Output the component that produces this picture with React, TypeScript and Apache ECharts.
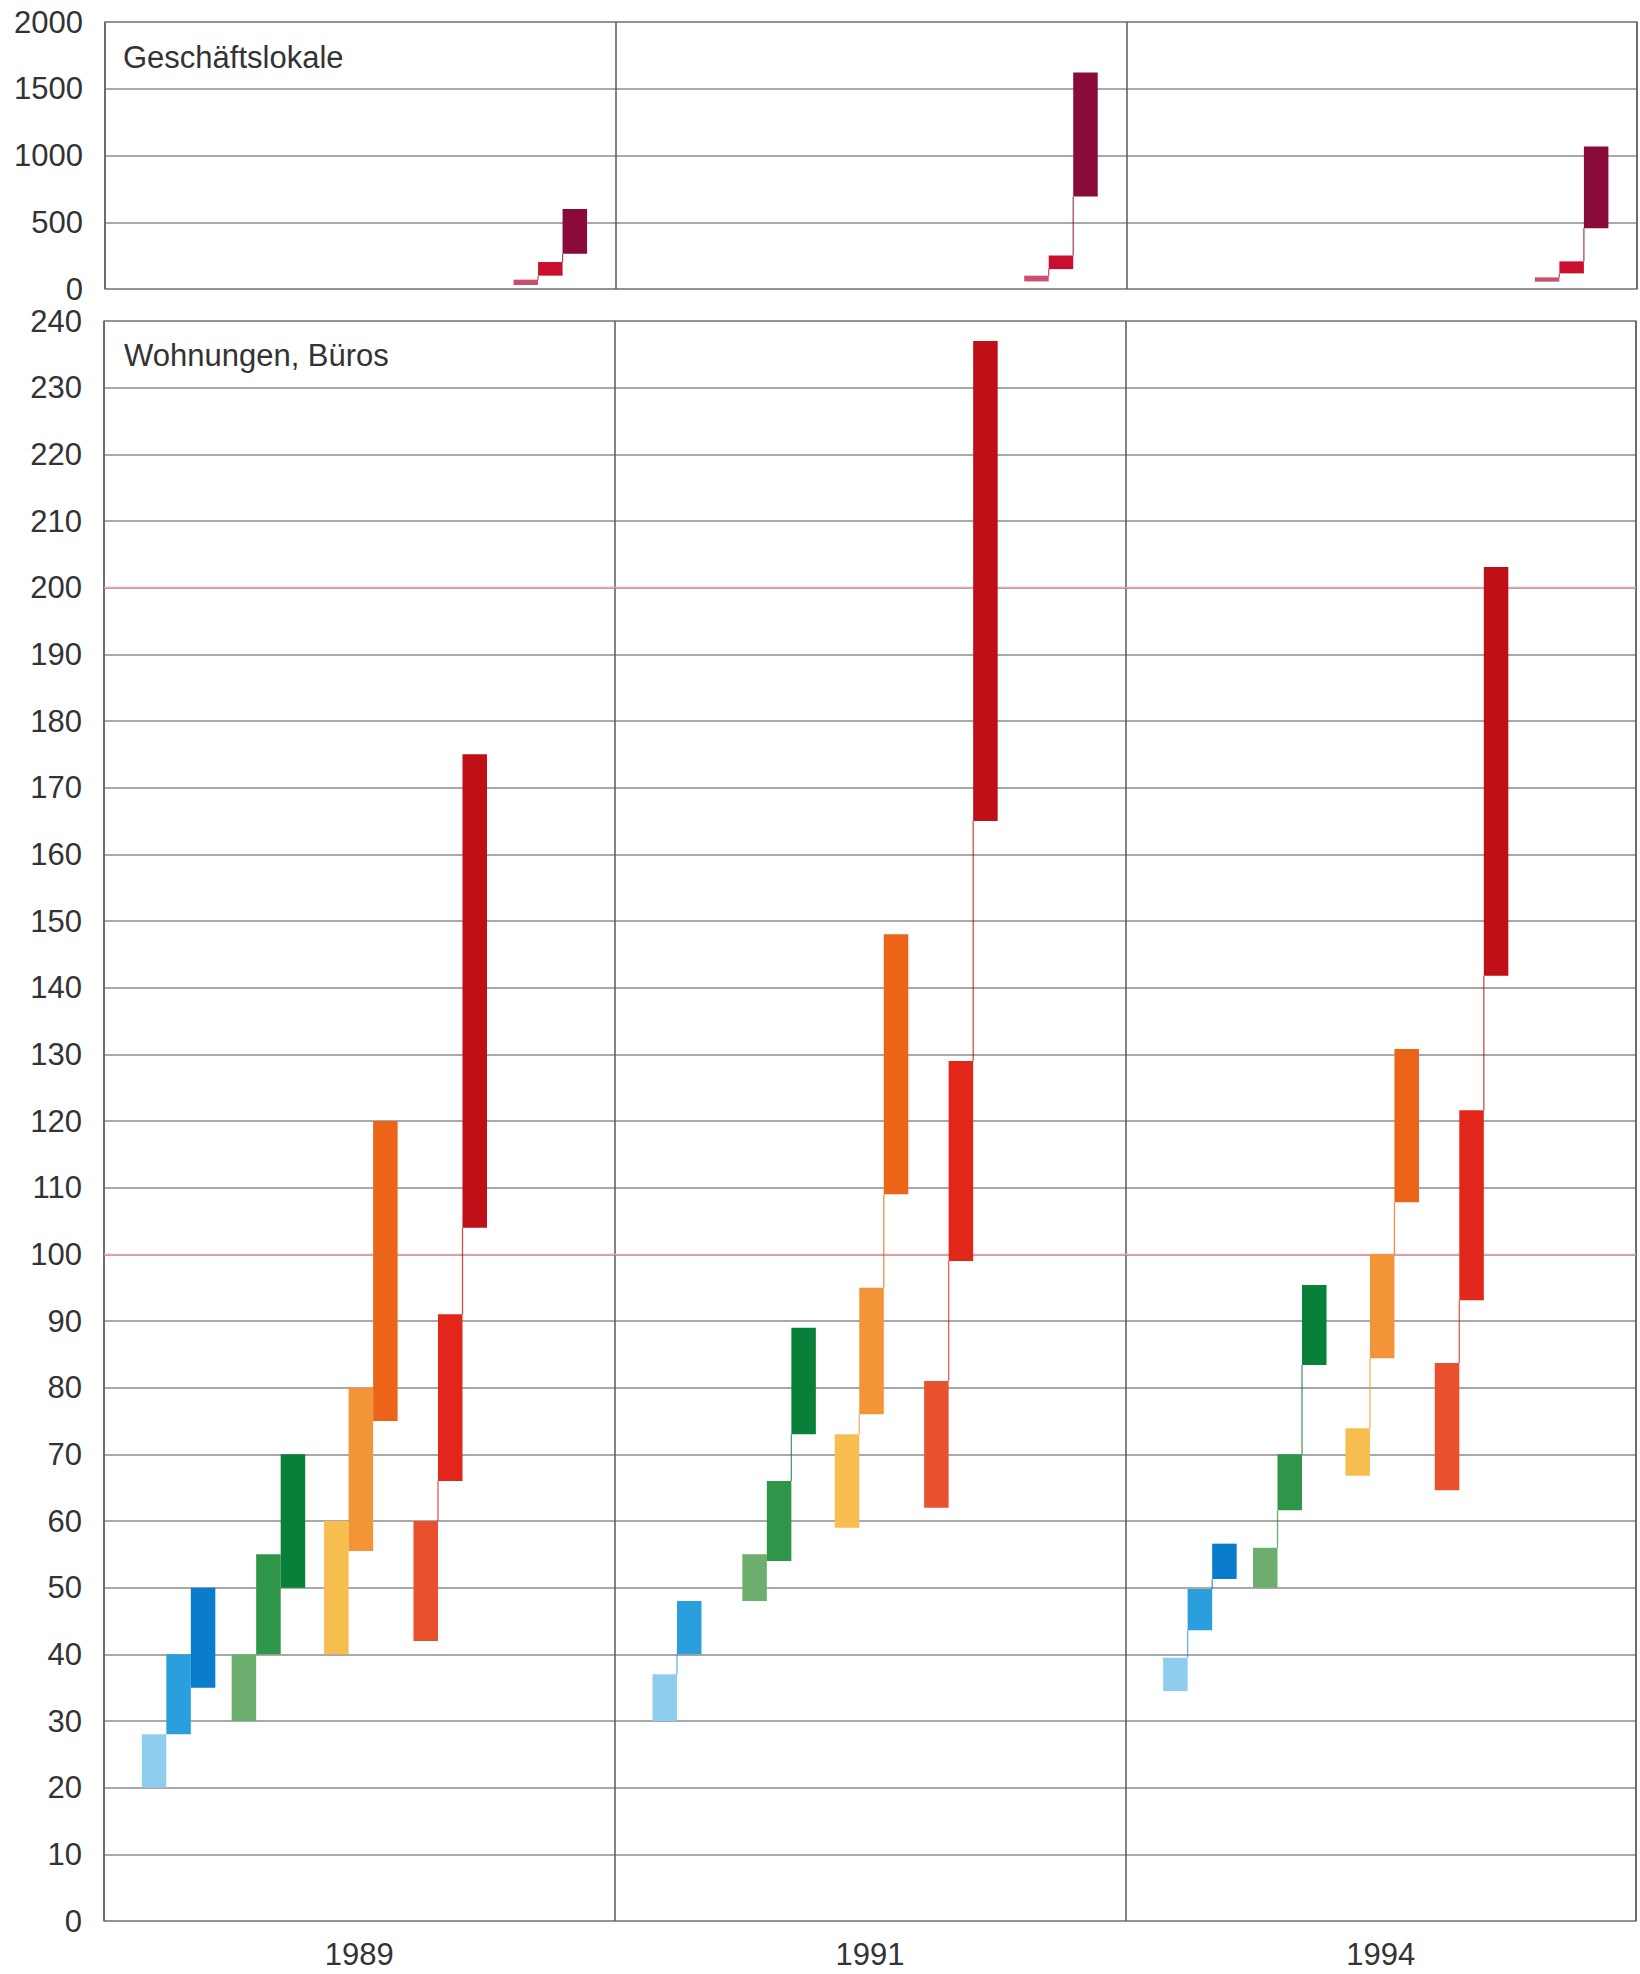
import React, { useEffect, useRef } from "react";
import * as echarts from "echarts";

// ---------- data ----------
const years = ["1989", "1991", "1994"];

// Geschäftslokale: [low, high] per year
const shopSmall = [[30, 70], [57, 100], [55, 87]];
const shopMid = [[100, 202], [149, 251], [117, 207]];
const shopLarge = [[264, 600], [692, 1622], [455, 1067]];

// Wohnungen, Büros: [low, high] per year (null = no bar)
const lightBlue = [[20, 28], [30, 37], [34.5, 39.5]];
const midBlue = [[28, 40], [40, 48], [43.6, 49.8]];
const darkBlue = [[35, 50], null, [51.3, 56.6]];

const lightGreen = [[30, 40], [48, 55], [50, 56]];
const midGreen = [[40, 55], [54, 66], [61.6, 70]];
const darkGreen = [[50, 70], [73, 89], [83.4, 95.4]];

const yellow = [[40, 60], [59, 73], [66.8, 73.9]];
const orange = [[55.5, 80], [76, 95], [84.4, 100]];
const darkOrange = [[75, 120], [109, 148], [107.8, 130.8]];

const redOrange = [[42, 60], [62, 81], [64.6, 83.7]];
const red = [[66, 91], [99, 129], [93.1, 121.6]];
const darkRed = [[104, 175], [165, 237], [141.8, 203.1]];

const shopTickMax = 2000;
const shopTickStep = 500;
const flatTickMax = 240;
const flatTickStep = 10;
const markedLevels = [100, 200];

// ---------- styles / layout ----------
const FONT = "'Liberation Sans', Arial, Helvetica, sans-serif";
const TEXT = "#333333";
const GRID = "#8c8c8c";
const DIVIDER = "#5a5a5a";

// group start positions inside each year band (fraction of band width)
const groupStart = [0.074, 0.25, 0.431, 0.606, 0.8];
const barFrac = 0.048;

const bottomGroups = [
  { series: [lightBlue, midBlue, darkBlue], colors: ["#8ecdee", "#2b9fdd", "#0b7bcb"] },
  { series: [lightGreen, midGreen, darkGreen], colors: ["#6bae6e", "#2f9548", "#08803a"] },
  { series: [yellow, orange, darkOrange], colors: ["#f7bd4f", "#f39438", "#eb6418"] },
  { series: [redOrange, red, darkRed], colors: ["#e8502e", "#e2261a", "#be1016"] },
];
const topGroups = [
  { series: [shopSmall, shopMid, shopLarge], colors: ["#c8506e", "#c8102e", "#8a0b3a"] },
];

function buildData(groups: any[], groupOffset: number) {
  const out: any[] = [];
  const palette: string[] = [];
  groups.forEach((grp, gi) => {
    grp.series.forEach((arr: any[], k: number) => {
      arr.forEach((v: any, yi: number) => {
        if (!v) return;
        const prev = k > 0 ? grp.series[k - 1][yi] : null;
        const colorIdx = palette.length;
        palette.push(grp.colors[k]);
        out.push([yi, v[0], v[1], gi + groupOffset, k, prev ? prev[1] : -1, colorIdx]);
      });
    });
  });
  return { out, palette };
}

function makeRender(palette: string[]) {
  return (params: any, api: any) => {
    const yi = api.value(0);
    const low = api.value(1);
    const high = api.value(2);
    const g = api.value(3);
    const k = api.value(4);
    const prev = api.value(5);
    const color = palette[api.value(6)];
    const bandW = api.size([1, 0])[0];
    const pLow = api.coord([yi, low]);
    const pHigh = api.coord([yi, high]);
    const left = pLow[0] - bandW / 2 + (groupStart[g] + k * barFrac) * bandW;
    const w = barFrac * bandW;
    const children: any[] = [
      {
        type: "rect",
        shape: { x: left, y: pHigh[1], width: w, height: pLow[1] - pHigh[1] },
        style: { fill: color },
      },
    ];
    if (prev >= 0 && prev < low) {
      const pPrev = api.coord([yi, prev]);
      children.push({
        type: "line",
        shape: { x1: left, y1: pPrev[1], x2: left, y2: pLow[1] },
        style: { stroke: color, lineWidth: 1.3, opacity: 0.75 },
      });
    }
    return { type: "group", children };
  };
}

export default function App() {
  const ref = useRef<HTMLDivElement>(null);
  useEffect(() => {
    document.body.style.margin = "0";
    if (!ref.current) return;
    const chart = echarts.init(ref.current, undefined, { renderer: "svg" });
    const top = buildData(topGroups, 4);
    const bottom = buildData(bottomGroups, 0);

    const yAxisCommon = {
      axisLine: { show: false },
      axisTick: { show: false },
      axisLabel: {
        fontSize: 31,
        color: TEXT,
        margin: 22,
        fontFamily: FONT,
        formatter: (v: number) => String(v),
      },
      splitLine: { show: true, lineStyle: { color: GRID, width: 1.5 } },
    };
    const xAxisCommon = {
      type: "category",
      data: years,
      axisLine: { show: false },
      axisTick: { show: false },
      splitLine: { show: true, lineStyle: { color: DIVIDER, width: 1.5 } },
    };

    chart.setOption({
      animation: false,
      backgroundColor: "#ffffff",
      textStyle: { fontFamily: FONT },
      grid: [
        { left: 105, top: 22, width: 1532, height: 267, show: true, borderColor: GRID, borderWidth: 1.5 },
        { left: 104, top: 321, width: 1532, height: 1600, show: true, borderColor: GRID, borderWidth: 1.5 },
      ],
      xAxis: [
        { ...xAxisCommon, gridIndex: 0, axisLabel: { show: false } },
        {
          ...xAxisCommon,
          gridIndex: 1,
          axisLabel: { fontSize: 31, color: TEXT, margin: 18, fontFamily: FONT },
        },
      ],
      yAxis: [
        { type: "value", gridIndex: 0, min: 0, max: shopTickMax, interval: shopTickStep, ...yAxisCommon },
        { type: "value", gridIndex: 1, min: 0, max: flatTickMax, interval: flatTickStep, ...yAxisCommon },
      ],
      series: [
        {
          type: "custom",
          xAxisIndex: 0,
          yAxisIndex: 0,
          renderItem: makeRender(top.palette),
          data: top.out,
          encode: { x: 0, y: [1, 2] },
          silent: true,
        },
        {
          type: "custom",
          xAxisIndex: 1,
          yAxisIndex: 1,
          renderItem: makeRender(bottom.palette),
          data: bottom.out,
          encode: { x: 0, y: [1, 2] },
          silent: true,
          z: 3,
          markLine: {
            silent: true,
            symbol: "none",
            label: { show: false },
            lineStyle: { color: "#f2a0ac", width: 1.3, type: "solid" },
            data: markedLevels.map((v) => ({ yAxis: v })),
            z: 1,
          },
        },
      ],
      graphic: [
        {
          type: "text",
          left: 123,
          top: 42,
          style: { text: "Geschäftslokale", fontSize: 31, fill: TEXT, fontFamily: FONT },
        },
        {
          type: "text",
          left: 124,
          top: 340,
          style: { text: "Wohnungen, Büros", fontSize: 31, fill: TEXT, fontFamily: FONT },
        },
      ],
    });
    return () => chart.dispose();
  }, []);
  return <div ref={ref} style={{ width: 1640, height: 1974 }} />;
}
